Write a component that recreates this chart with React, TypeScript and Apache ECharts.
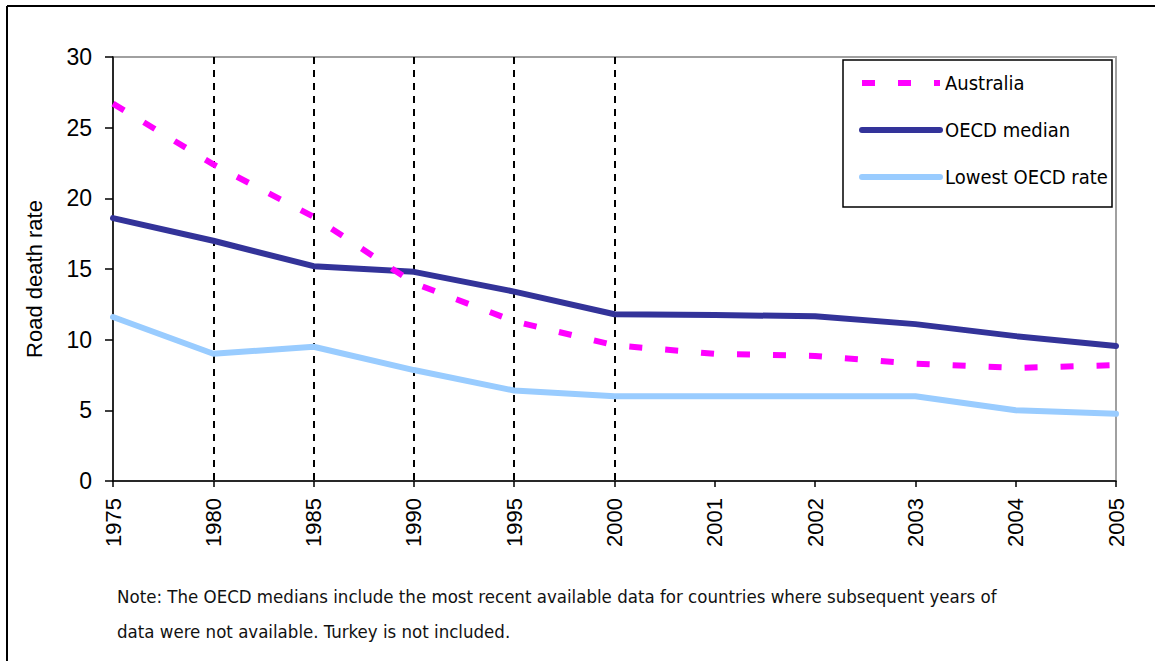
import React, { useEffect, useRef } from 'react';
import * as echarts from 'echarts';

const years = ['1975', '1980', '1985', '1990', '1995', '2000', '2001', '2002', '2003', '2004', '2005'];
const australia = [26.7, 22.4, 18.7, 14.0, 11.3, 9.6, 9.0, 8.85, 8.3, 8.0, 8.2];
const oecdMedian = [18.6, 17.0, 15.2, 14.8, 13.4, 11.8, 11.75, 11.65, 11.1, 10.25, 9.55];
const lowestOecd = [11.6, 9.0, 9.5, 7.85, 6.4, 6.0, 6.0, 6.0, 6.0, 5.0, 4.75];
const yMin = 0;
const yMax = 30;
const yStep = 5;
const seriesNames = ['Australia', 'OECD median', 'Lowest OECD rate'];
const seriesColors = ['#ff00ff', '#333399', '#99ccff'];
const yAxisTitle = 'Road death rate';
const noteLines = [
  'Note: The OECD medians include the most recent available data for countries where subsequent years of',
  'data were not available. Turkey is not included.',
];
const dashedYears = ['1980', '1985', '1990', '1995', '2000'];

const SANS = "'Liberation Sans', Arial, sans-serif";
const NARROW = "'Liberation Sans Narrow', 'Arial Narrow', 'DejaVu Sans Condensed', sans-serif";
const AUS_DASH = [13, 23];

export default function App() {
  const ref = useRef<HTMLDivElement>(null);
  useEffect(() => {
    document.body.style.margin = '0';
    const chart = echarts.init(ref.current!, null, { renderer: 'svg' });
    chart.setOption({
      animation: false,
      backgroundColor: '#fff',
      grid: {
        left: 113,
        top: 57,
        right: 39,
        bottom: 180,
        show: true,
        borderColor: '#a0a0a0',
        borderWidth: 2,
        backgroundColor: 'transparent',
      },
      xAxis: {
        type: 'category',
        data: years,
        boundaryGap: false,
        axisLine: { lineStyle: { color: '#000', width: 1.5 } },
        axisTick: { show: true, length: 6, lineStyle: { color: '#000', width: 1.5 } },
        axisLabel: {
          rotate: 90,
          margin: 17,
          fontSize: 22,
          color: '#000',
          fontFamily: SANS,
          interval: 0,
        },
        splitLine: {
          show: true,
          interval: (idx: number, val: string) => dashedYears.includes(val),
          lineStyle: { color: '#000', width: 2, type: [7, 6] },
        },
      },
      yAxis: {
        type: 'value',
        min: yMin,
        max: yMax,
        interval: yStep,
        name: yAxisTitle,
        nameLocation: 'middle',
        nameGap: 68,
        nameTextStyle: { fontSize: 22, color: '#000', fontFamily: SANS, padding: [0, 20, 0, 0] },
        axisLine: { show: true, lineStyle: { color: '#000', width: 1.5 } },
        axisTick: { show: true, length: 8, lineStyle: { color: '#000', width: 1.5 } },
        axisLabel: { margin: 21, fontSize: 23, color: '#000', fontFamily: SANS },
        splitLine: { show: false },
      },
      legend: {
        orient: 'vertical',
        left: 859,
        top: 72,
        padding: 0,
        itemWidth: 78,
        itemHeight: 14,
        itemGap: 25,
        itemStyle: { opacity: 0 },
        data: seriesNames.map((n, i) => ({
          name: n,
          lineStyle: {
            color: seriesColors[i],
            width: 6,
            type: i === 0 ? AUS_DASH : 'solid',
            cap: i === 0 ? 'butt' : 'round',
          },
        })),
        textStyle: { fontSize: 20, lineHeight: 22, color: '#000', fontFamily: NARROW },
      },
      graphic: [
        {
          type: 'rect',
          z: 3,
          shape: { x: 843, y: 60, width: 269, height: 147 },
          style: { fill: '#fff', stroke: '#000', lineWidth: 1.5 },
        },
        {
          type: 'line',
          shape: { x1: 7, y1: 6, x2: 1160, y2: 6 },
          style: { stroke: '#000', lineWidth: 2 },
        },
        {
          type: 'line',
          shape: { x1: 7, y1: 6, x2: 7, y2: 670 },
          style: { stroke: '#000', lineWidth: 2 },
        },
        {
          type: 'text',
          left: 117,
          top: 587,
          style: { text: noteLines[0], fontSize: 18.5, fill: '#111', fontFamily: NARROW },
        },
        {
          type: 'text',
          left: 117,
          top: 622,
          style: { text: noteLines[1], fontSize: 18.5, fill: '#111', fontFamily: NARROW },
        },
      ],
      series: [
        {
          name: seriesNames[0],
          type: 'line',
          data: australia,
          symbol: 'none',
          z: 4,
          lineStyle: { color: seriesColors[0], width: 6, type: AUS_DASH, cap: 'butt' },
          itemStyle: { color: seriesColors[0] },
        },
        {
          name: seriesNames[1],
          type: 'line',
          data: oecdMedian,
          symbol: 'none',
          z: 3,
          lineStyle: { color: seriesColors[1], width: 6, cap: 'round' },
          itemStyle: { color: seriesColors[1] },
        },
        {
          name: seriesNames[2],
          type: 'line',
          data: lowestOecd,
          symbol: 'none',
          z: 3,
          lineStyle: { color: seriesColors[2], width: 6, cap: 'round' },
          itemStyle: { color: seriesColors[2] },
        },
      ],
    });
    return () => chart.dispose();
  }, []);
  return (
    <div
      ref={ref}
      style={{ position: 'fixed', left: 0, top: 0, width: 1155, height: 661 }}
    />
  );
}
